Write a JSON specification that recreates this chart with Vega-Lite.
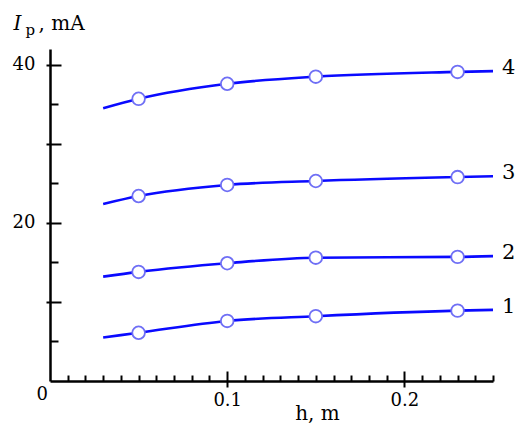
{
  "$schema": "https://vega.github.io/schema/vega-lite/v6.json",
  "width": 443,
  "height": 332,
  "autosize": {"type": "none"},
  "padding": {"left": 50, "top": 49, "right": 31, "bottom": 51},
  "background": "white",
  "config": {
    "view": {"stroke": null},
    "axis": {
      "grid": false,
      "labelFont": "DejaVu Serif",
      "titleFont": "DejaVu Serif",
      "labelColor": "black",
      "titleColor": "black",
      "tickColor": "black",
      "domainColor": "black",
      "titleFontWeight": "normal"
    }
  },
  "data": {
    "values": [
      {"series": "1", "h": 0.03, "I": 5.5},
      {"series": "1", "h": 0.05, "I": 6.1},
      {"series": "1", "h": 0.1, "I": 7.6},
      {"series": "1", "h": 0.15, "I": 8.2},
      {"series": "1", "h": 0.23, "I": 8.9},
      {"series": "1", "h": 0.25, "I": 9.0},
      {"series": "2", "h": 0.03, "I": 13.2},
      {"series": "2", "h": 0.05, "I": 13.8},
      {"series": "2", "h": 0.1, "I": 14.9},
      {"series": "2", "h": 0.15, "I": 15.6},
      {"series": "2", "h": 0.23, "I": 15.7},
      {"series": "2", "h": 0.25, "I": 15.8},
      {"series": "3", "h": 0.03, "I": 22.4},
      {"series": "3", "h": 0.05, "I": 23.4},
      {"series": "3", "h": 0.1, "I": 24.8},
      {"series": "3", "h": 0.15, "I": 25.3},
      {"series": "3", "h": 0.23, "I": 25.8},
      {"series": "3", "h": 0.25, "I": 25.9},
      {"series": "4", "h": 0.03, "I": 34.5},
      {"series": "4", "h": 0.05, "I": 35.7},
      {"series": "4", "h": 0.1, "I": 37.6},
      {"series": "4", "h": 0.15, "I": 38.5},
      {"series": "4", "h": 0.23, "I": 39.1},
      {"series": "4", "h": 0.25, "I": 39.2}
    ]
  },
  "layer": [
    {
      "mark": {"type": "line", "interpolate": "monotone", "color": "#0a0aff", "strokeWidth": 2.6},
      "encoding": {
        "detail": {"field": "series"},
        "x": {
          "field": "h", "type": "quantitative",
          "scale": {"domain": [0, 0.25], "nice": false},
          "axis": {
            "orient": "bottom",
            "values": [0, 0.1, 0.2],
            "labelExpr": "datum.value == 0 ? '0' : format(datum.value, '.1f')",
            "labelFontSize": 18,
            "labelPadding": {"condition": {"test": "datum.value == 0", "value": -2}, "value": 4},
            "labelOffset": {"condition": {"test": "datum.value == 0", "value": -14}, "value": 0},
            "tickSize": 6,
            "tickWidth": 2,
            "tickOpacity": {"condition": {"test": "datum.value == 0", "value": 0}, "value": 1},
            "domainWidth": 2.5,
            "title": "h, m",
            "titleFontSize": 20,
            "titleAlign": "center",
            "titleBaseline": "alphabetic",
            "titleX": 267,
            "titleY": 38
          }
        },
        "y": {
          "field": "I", "type": "quantitative",
          "scale": {"domain": [0, 42], "nice": false},
          "axis": {
            "orient": "left",
            "values": [10, 20, 30, 40],
            "labelExpr": "datum.value == 20 || datum.value == 40 ? datum.label : ''",
            "labelFontSize": 18,
            "labelPadding": 11,
            "tickSize": 4,
            "tickWidth": 2,
            "domainWidth": 2.5,
            "title": "I",
            "titleFontStyle": "italic",
            "titleFontSize": 20,
            "titleAngle": 0,
            "titleAlign": "left",
            "titleBaseline": "alphabetic",
            "titleX": -37,
            "titleY": -20
          }
        }
      }
    },
    {
      "transform": [{"filter": {"field": "h", "oneOf": [0.05, 0.1, 0.15, 0.23]}}],
      "mark": {"type": "point", "shape": "circle", "filled": true, "fill": "white", "stroke": "#6f6ff5", "strokeWidth": 1.8, "size": 160, "opacity": 1},
      "encoding": {
        "detail": {"field": "series"},
        "x": {
          "field": "h", "type": "quantitative",
          "scale": {"domain": [0, 0.25], "nice": false},
          "axis": {
            "orient": "bottom",
            "values": [0.01, 0.02, 0.03, 0.04, 0.05, 0.06, 0.07, 0.08, 0.09, 0.1, 0.11, 0.12, 0.13, 0.14, 0.15, 0.16, 0.17, 0.18, 0.19, 0.2, 0.21, 0.22, 0.23, 0.24, 0.25],
            "labels": false,
            "domain": false,
            "tickSize": {"condition": {"test": "datum.value == 0.1 || datum.value == 0.2", "value": -10}, "value": -6},
            "tickWidth": 2,
            "title": null
          }
        },
        "y": {
          "field": "I", "type": "quantitative",
          "scale": {"domain": [0, 42], "nice": false},
          "axis": {
            "orient": "left",
            "values": [5, 10, 15, 20, 25, 30, 35, 40],
            "labels": false,
            "domain": false,
            "tickSize": {"condition": {"test": "datum.value % 10 == 0", "value": -11}, "value": -8},
            "tickWidth": 2,
            "title": "p",
            "titleFontSize": 15,
            "titleAngle": 0,
            "titleAlign": "left",
            "titleBaseline": "alphabetic",
            "titleX": -25,
            "titleY": -15
          }
        }
      }
    },
    {
      "transform": [{"filter": "datum.h == 0.25"}],
      "mark": {"type": "text", "align": "left", "baseline": "middle", "dx": 9, "dy": -3, "font": "DejaVu Serif", "fontSize": 21, "color": "black"},
      "encoding": {
        "text": {"field": "series"},
        "x": {
          "field": "h", "type": "quantitative",
          "scale": {"domain": [0, 0.25], "nice": false},
          "axis": null
        },
        "y": {
          "field": "I", "type": "quantitative",
          "scale": {"domain": [0, 42], "nice": false},
          "axis": {
            "orient": "left",
            "labels": false,
            "ticks": false,
            "domain": false,
            "title": ", mA",
            "titleFontSize": 20,
            "titleAngle": 0,
            "titleAlign": "left",
            "titleBaseline": "alphabetic",
            "titleX": -12,
            "titleY": -20
          }
        }
      }
    }
  ],
  "resolve": {"axis": {"x": "independent", "y": "independent"}}
}
